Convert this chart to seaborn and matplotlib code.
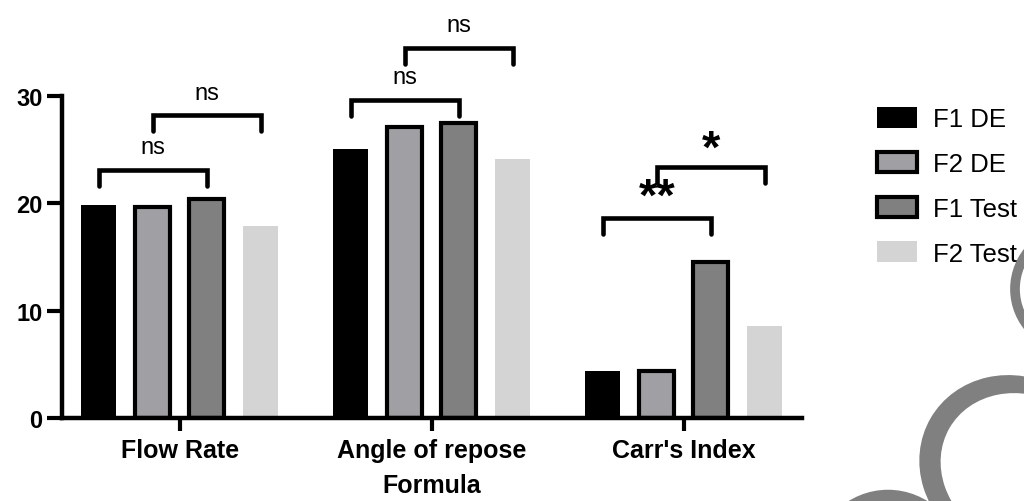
import numpy as np
import pandas as pd
import matplotlib
matplotlib.use("Agg")
import matplotlib.pyplot as plt
import seaborn as sns
from matplotlib.patches import Ellipse, Patch
from matplotlib.transforms import IdentityTransform

# ---------------- data ----------------
categories = ["Flow Rate", "Angle of repose", "Carr's Index"]
series = ["F1 DE", "F2 DE", "F1 Test", "F2 Test"]
f1_de = [19.8, 25.1, 4.4]
f2_de = [19.7, 27.1, 4.4]
f1_test = [20.4, 27.5, 14.5]
f2_test = [17.9, 24.1, 8.6]
yticks = [0, 10, 20, 30]
x_label = "Formula"
# significance comparisons: category, series a, series b, bracket level, label
comp_category = ["Flow Rate", "Flow Rate", "Angle of repose", "Angle of repose", "Carr's Index", "Carr's Index"]
comp_a = ["F1 DE", "F2 DE", "F1 DE", "F2 DE", "F1 DE", "F2 DE"]
comp_b = ["F1 Test", "F2 Test", "F1 Test", "F2 Test", "F1 Test", "F2 Test"]
comp_level = [23.1, 28.2, 29.65, 34.5, 18.65, 23.4]
comp_label = ["ns", "ns", "ns", "ns", "**", "*"]

# ---------------- style ----------------
sns.set_style("ticks")
plt.rcParams["font.family"] = ["Liberation Sans", "DejaVu Sans"]
for k in ["text.color", "axes.labelcolor", "xtick.color", "ytick.color", "axes.edgecolor"]:
    plt.rcParams[k] = "black"

colors = ["#000000", "#a0a0a4", "#808080", "#d4d4d4"]
edged = [False, True, True, False]

values = [f1_de, f2_de, f1_test, f2_test]
rows = []
for s, vals in zip(series, values):
    for c, v in zip(categories, vals):
        rows.append({"Formula": c, "series": s, "value": v})
df = pd.DataFrame(rows)

fig = plt.figure(figsize=(10.24, 5.02), dpi=100)
ax = fig.add_axes([0.0605, 0.1653, 0.7225, 0.6415])

sns.barplot(data=df, x="Formula", y="value", hue="series",
            order=categories, hue_order=series, palette=colors,
            saturation=1, width=0.857, gap=0.35, errorbar=None,
            legend=False, ax=ax)

for cont, e in zip(ax.containers, edged):
    for p in cont.patches:
        if e:
            p.set_edgecolor("black")
            p.set_linewidth(3)
        else:
            p.set_linewidth(0)

ax.set_xlim(-0.468, 2.468)
ax.set_ylim(0, 30)
ax.set_yticks(yticks)
ax.set_ylabel("")
ax.set_xlabel(x_label, fontsize=18, fontweight="bold", labelpad=8)

for side in ["top", "right"]:
    ax.spines[side].set_visible(False)
for side in ["left", "bottom"]:
    ax.spines[side].set_linewidth(3.2)
ax.tick_params(axis="y", length=11, width=3, labelsize=17, pad=3)
ax.tick_params(axis="x", length=9.5, width=3, labelsize=18, pad=5)
for lab in ax.get_yticklabels() + ax.get_xticklabels():
    lab.set_fontweight("bold")

# bar centres for brackets
centers = {}
for s, cont in zip(series, ax.containers):
    for c, p in zip(categories, cont.patches):
        centers[(c, s)] = p.get_x() + p.get_width() / 2

leg = 1.5
for c, a, b, lvl, lab in zip(comp_category, comp_a, comp_b, comp_level, comp_label):
    xa, xb = centers[(c, a)], centers[(c, b)]
    ax.plot([xa, xa, xb, xb], [lvl - leg, lvl, lvl, lvl - leg], color="black",
            lw=3.3, clip_on=False, solid_capstyle="round", solid_joinstyle="miter")
    if lab == "ns":
        ax.text((xa + xb) / 2, lvl + 1.55, lab, ha="center", va="baseline",
                fontsize=17, clip_on=False)
    else:
        ax.text((xa + xb) / 2, lvl + (0.8 if lab == "**" else 0.45), lab,
                ha="center", va="baseline", fontsize=34, fontweight="bold", clip_on=False)

handles = []
for col, e in zip(colors, edged):
    handles.append(Patch(facecolor=col, edgecolor="black" if e else col,
                         linewidth=3 if e else 0))
fig.legend(handles, series, loc="upper left", bbox_to_anchor=(877 / 1024, 1 - 108 / 502),
           frameon=False, fontsize=18.5, handlelength=1.55, handleheight=0.86,
           handletextpad=0.62, labelspacing=0.8, borderpad=0, borderaxespad=0)

# watermark rings (bottom right)
H = 502
def img(x, y):
    return (x, H - y)
ring_gray = "#808080"
fig.add_artist(Ellipse(img(1015, 468), 195, 180, angle=-30, facecolor=ring_gray,
                       edgecolor="none", transform=IdentityTransform(), zorder=0))
fig.add_artist(Ellipse(img(1024, 472), 172, 150, angle=-30, facecolor="white",
                       edgecolor="none", transform=IdentityTransform(), zorder=0))
fig.add_artist(Ellipse(img(1075, 290), 120, 120, facecolor="none", edgecolor=ring_gray,
                       linewidth=7, transform=IdentityTransform(), zorder=0))
fig.add_artist(Ellipse(img(888, 565), 136, 136, facecolor="none", edgecolor=ring_gray,
                       linewidth=9, transform=IdentityTransform(), zorder=0))

fig.savefig("out.png", dpi=100)
